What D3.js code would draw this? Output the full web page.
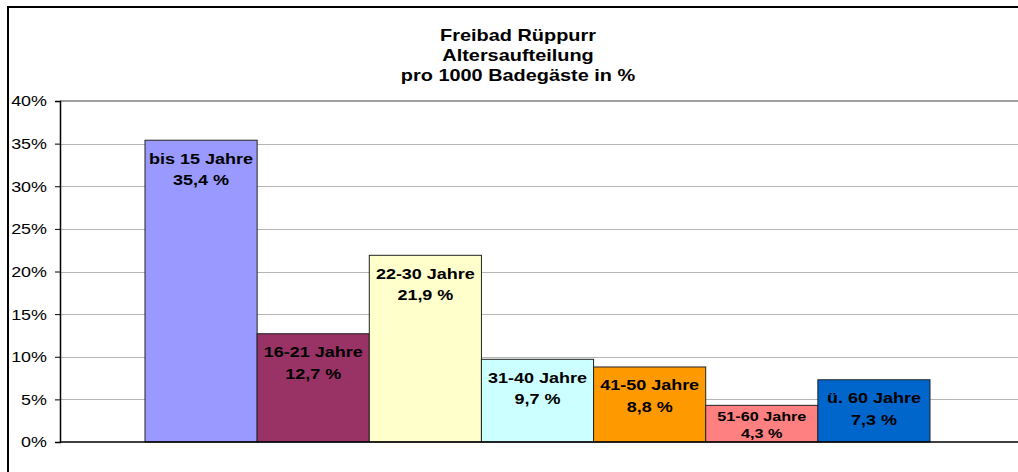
<!DOCTYPE html>
<html>
<head>
<meta charset="utf-8">
<script src="https://cdn.jsdelivr.net/npm/d3@7"></script>
<style>
  html, body { margin: 0; padding: 0; background: #fff; }
  svg { display: block; font-family: "Liberation Sans", Arial, sans-serif; }
</style>
</head>
<body>
<svg id="chart" width="1018" height="472"></svg>
<script>
// data
const titleLines = ['Freibad Rüppurr', 'Altersaufteilung', 'pro 1000 Badegäste in %'];
const categories = ['bis 15 Jahre', '16-21 Jahre', '22-30 Jahre', '31-40 Jahre', '41-50 Jahre', '51-60 Jahre', 'ü. 60 Jahre'];
const values = [35.4, 12.7, 21.9, 9.7, 8.8, 4.3, 7.3];
const yTicks = [0, 5, 10, 15, 20, 25, 30, 35, 40];

// excel-ish palette
const palette = ['#9999ff', '#993366', '#ffffcc', '#ccffff', '#ff9900', '#ff8080', '#0066cc'];

const svg = d3.select('#chart');
const width = +svg.attr('width'), height = +svg.attr('height');

const de = d3.formatLocale({ decimal: ',', thousands: '.', grouping: [3], currency: ['', ' €'] });
const fmt = de.format('.1f');

// the screenshot is a bit stretched sideways, so text gets a x-scale
function stretchText(sel, x, y, sx) {
  return sel.attr('transform', `translate(${x},${y}) scale(${sx},1)`);
}

// outer frame
svg.append('rect')
  .attr('x', 8).attr('y', 7)
  .attr('width', width + 20).attr('height', height + 20)
  .attr('fill', 'none').attr('stroke', '#000').attr('stroke-width', 2);

// title
titleLines.forEach((t, i) => {
  stretchText(svg.append('text'), 518, 41 + i * 20, 1.17)
    .attr('text-anchor', 'middle')
    .attr('font-size', '17px')
    .attr('font-weight', 'bold')
    .attr('fill', '#000')
    .text(t);
});

// scales
const plotL = 60, plotR = 1015, plotT = 101, plotB = 442;
const x = d3.scaleBand().domain(categories).range([plotL, plotR]).paddingInner(0).paddingOuter(0.758);
const y = d3.scaleLinear().domain([0, 40]).range([plotB, plotT]);
const color = d3.scaleOrdinal().domain(categories).range(palette);

// gridlines
svg.append('g')
  .selectAll('line')
  .data(yTicks.filter(d => d > 0 && d < 40))
  .join('line')
  .attr('x1', plotL).attr('x2', width + 5)
  .attr('y1', d => Math.round(y(d)) + 0.5).attr('y2', d => Math.round(y(d)) + 0.5)
  .attr('stroke', '#b4b4b4').attr('stroke-width', 1);

// plot area top edge
svg.append('line')
  .attr('x1', plotL).attr('x2', width + 5)
  .attr('y1', y(40)).attr('y2', y(40))
  .attr('stroke', '#a0a0a0').attr('stroke-width', 2);

// bars
svg.append('g')
  .selectAll('rect')
  .data(values)
  .join('rect')
  .attr('x', (d, i) => x(categories[i]))
  .attr('y', d => y(d))
  .attr('width', x.bandwidth())
  .attr('height', d => y(0) - y(d))
  .attr('fill', (d, i) => color(categories[i]))
  .attr('stroke', '#222').attr('stroke-width', 1);

// bar labels
values.forEach((v, i) => {
  const small = v < 5;
  const fs = small ? 13.5 : 15;
  const cx = x(categories[i]) + x.bandwidth() / 2;
  const top = y(v);
  const first = small ? top + 16 : top + 23.5;
  const gap = small ? 17 : 21.5;
  [categories[i], fmt(v) + ' %'].forEach((t, j) => {
    stretchText(svg.append('text'), cx, first + j * gap, 1.2)
      .attr('text-anchor', 'middle')
      .attr('font-size', fs + 'px')
      .attr('font-weight', 'bold')
      .attr('fill', '#000')
      .text(t);
  });
});

// y axis
const yAxis = svg.append('g')
  .attr('transform', `translate(${plotL},0)`)
  .call(d3.axisLeft(y).tickValues(yTicks).tickSize(5).tickPadding(0).tickFormat(d => d + '%'));
yAxis.select('.domain').attr('stroke', '#000').attr('stroke-width', 1.5);
yAxis.selectAll('.tick line').attr('stroke', '#000');
yAxis.selectAll('.tick text').each(function () {
  const t = d3.select(this);
  t.attr('x', null).attr('dy', '0.35em');
  stretchText(t, -13, 0, 1.28);
})
  .attr('font-size', '14px')
  .attr('font-family', '"Liberation Sans", Arial, sans-serif')
  .attr('fill', '#000');

// x baseline
svg.append('line')
  .attr('x1', plotL).attr('x2', width + 5)
  .attr('y1', y(0)).attr('y2', y(0))
  .attr('stroke', '#000').attr('stroke-width', 1.5);
</script>
</body>
</html>
